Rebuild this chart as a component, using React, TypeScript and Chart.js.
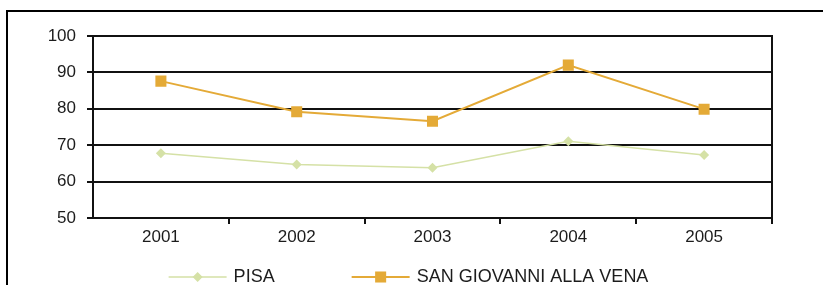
import React, { useEffect, useRef } from "react";
import { Chart, registerables } from "chart.js";

Chart.register(...registerables);

const years = ["2001", "2002", "2003", "2004", "2005"];
const pisa = [67.8, 64.7, 63.8, 71.1, 67.3];
const sanGiovanni = [87.6, 79.2, 76.6, 92.0, 79.9];
const seriesNames = ["PISA", "SAN GIOVANNI ALLA VENA"];
const yTicks = { min: 50, max: 100, step: 10 };

const GREEN = "#d5e1a6";
const ORANGE = "#e4aa37";
const FONT = "'Liberation Sans', Arial, sans-serif";
const TEXT = "#1c1c1c";
const LINE = "#111111";

const framePlugin = {
  id: "frame",
  afterDraw(chart: any) {
    const { ctx, chartArea } = chart;
    ctx.save();
    // outer frame (left + top)
    ctx.strokeStyle = "#000";
    ctx.lineWidth = 2;
    ctx.beginPath();
    ctx.moveTo(7, 285);
    ctx.lineTo(7, 11);
    ctx.lineTo(823, 11);
    ctx.stroke();
    // right border of plot
    ctx.strokeStyle = LINE;
    ctx.lineWidth = 2;
    ctx.beginPath();
    ctx.moveTo(chartArea.right, chartArea.top - 1);
    ctx.lineTo(chartArea.right, chartArea.bottom + 1);
    ctx.stroke();

    // legend
    const y = 277;
    ctx.font = `18px ${FONT}`;
    ctx.textBaseline = "middle";
    const lineLen = 58;
    const textGap = 7;
    const itemGap = 77;
    const widths = chart.data.datasets.map((d: any) => ctx.measureText(d.label).width);
    let total = 0;
    widths.forEach((w: number, i: number) => {
      total += lineLen + textGap + w + (i < widths.length - 1 ? itemGap : 0);
    });
    let x = 408.5 - total / 2;
    chart.data.datasets.forEach((d: any, i: number) => {
      ctx.strokeStyle = d.borderColor;
      ctx.lineWidth = d.borderWidth;
      ctx.beginPath();
      ctx.moveTo(x, y);
      ctx.lineTo(x + lineLen, y);
      ctx.stroke();
      const cx = x + lineLen / 2;
      ctx.fillStyle = d.backgroundColor;
      if (d.pointStyle === "rect") {
        const s = d.pointRadius * Math.SQRT1_2;
        ctx.fillRect(cx - s, y - s, 2 * s, 2 * s);
      } else {
        const r = d.pointRadius;
        ctx.beginPath();
        ctx.moveTo(cx - r, y);
        ctx.lineTo(cx, y - r);
        ctx.lineTo(cx + r, y);
        ctx.lineTo(cx, y + r);
        ctx.closePath();
        ctx.fill();
      }
      ctx.fillStyle = TEXT;
      ctx.textAlign = "left";
      ctx.fillText(d.label, x + lineLen + textGap, y);
      x += lineLen + textGap + widths[i] + itemGap;
    });
    ctx.restore();
  },
};

export default function App() {
  const ref = useRef<HTMLCanvasElement>(null);
  useEffect(() => {
    document.body.style.margin = "0";
    const chart = new Chart(ref.current!, {
      type: "line",
      data: {
        labels: years,
        datasets: [
          {
            label: seriesNames[0],
            data: pisa,
            borderColor: GREEN,
            backgroundColor: GREEN,
            borderWidth: 1.5,
            pointStyle: "rectRot",
            pointRadius: 5,
            pointBorderWidth: 0,
            tension: 0,
          },
          {
            label: seriesNames[1],
            data: sanGiovanni,
            borderColor: ORANGE,
            backgroundColor: ORANGE,
            borderWidth: 2,
            pointStyle: "rect",
            pointRadius: 7.8,
            pointBorderWidth: 0,
            tension: 0,
          },
        ],
      },
      options: {
        animation: false,
        responsive: false,
        layout: { padding: { left: 0, right: 51, top: 36, bottom: 0 } },
        plugins: { legend: { display: false }, tooltip: { enabled: false } },
        scales: {
          x: {
            offset: true,
            grid: {
              offset: true,
              drawOnChartArea: false,
              drawTicks: true,
              tickLength: 6,
              color: (c: any) =>
                c.index === 0 || c.index === years.length ? "rgba(0,0,0,0)" : LINE,
              lineWidth: 2,
            },
            border: { display: true, color: LINE, width: 2 },
            ticks: { font: { family: FONT, size: 17 }, color: TEXT, padding: 3 },
            afterFit(scale: any) {
              scale.height = 67;
            },
          },
          y: {
            min: yTicks.min,
            max: yTicks.max,
            ticks: {
              stepSize: yTicks.step,
              font: { family: FONT, size: 17 },
              color: TEXT,
              padding: 11,
            },
            grid: { color: LINE, lineWidth: 2, tickLength: 6 },
            border: { display: true, color: LINE, width: 2 },
            afterFit(scale: any) {
              scale.width = 93;
            },
          },
        },
      } as any,
      plugins: [framePlugin],
    });
    return () => chart.destroy();
  }, []);
  return <canvas ref={ref} width={823} height={285} style={{ display: "block" }} />;
}
